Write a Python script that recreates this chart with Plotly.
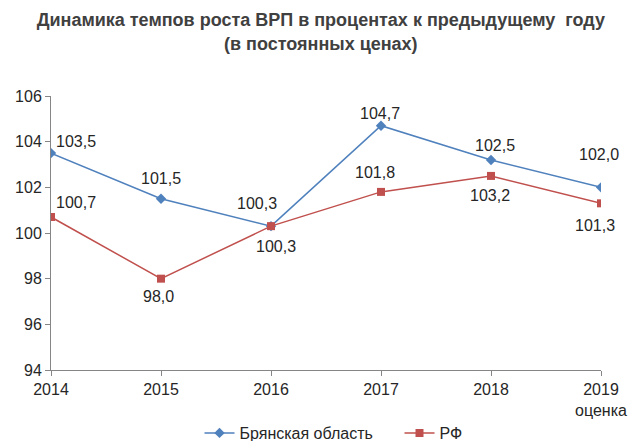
import plotly.graph_objects as go

years = ["2014", "2015", "2016", "2017", "2018", "2019<br>оценка"]
bryansk = [103.5, 101.5, 100.3, 104.7, 103.2, 102.0]
rf = [100.7, 98.0, 100.3, 101.8, 102.5, 101.3]
bryansk_labels = ["103,5", "101,5", "100,3", "104,7", "102,5", "102,0"]
rf_labels = ["100,7", "98,0", "100,3", "101,8", "103,2", "101,3"]
y_ticks = [94, 96, 98, 100, 102, 104, 106]

BLUE = "#4F81BD"
RED = "#C0504D"
TXT = "#262626"
FONT = "Liberation Sans, Arial, sans-serif"

x = list(range(len(years)))

fig = go.Figure()
fig.add_trace(go.Scatter(
    x=x, y=bryansk, name="Брянская область", mode="lines+markers",
    line=dict(color=BLUE, width=1.5),
    marker=dict(symbol="diamond", size=8, color=BLUE),
))
fig.add_trace(go.Scatter(
    x=x, y=rf, name="РФ", mode="lines+markers",
    line=dict(color=RED, width=1.5),
    marker=dict(symbol="square", size=8, color=RED),
))

# label offsets (pixels) relative to each point
b_off = [(25, 12), (0, 20), (-14, 23), (-1, 12), (4, 14), (-2, 33)]
r_off = [(25, 15), (-3, -18), (5, -20), (-6, 19), (-1, -20), (-6, -22)]
for i in x:
    fig.add_annotation(x=i, y=bryansk[i], text=bryansk_labels[i], showarrow=False,
                       xshift=b_off[i][0], yshift=b_off[i][1],
                       font=dict(size=16, color=TXT, family=FONT))
    fig.add_annotation(x=i, y=rf[i], text=rf_labels[i], showarrow=False,
                       xshift=r_off[i][0], yshift=r_off[i][1],
                       font=dict(size=16, color=TXT, family=FONT))

fig.update_layout(
    width=629, height=441,
    margin=dict(l=51, r=28, t=96, b=71, autoexpand=False),
    paper_bgcolor="white", plot_bgcolor="white",
    font=dict(family=FONT, size=16, color=TXT),
    title=dict(
        text="<b>Динамика темпов роста ВРП в процентах к предыдущему  году<br>(в постоянных ценах)</b>",
        x=0.51, xanchor="center", yref="container", y=0.94, yanchor="middle",
        font=dict(size=18, color="#404040", family=FONT),
    ),
    showlegend=True,
    legend=dict(orientation="h", x=0.27, xanchor="left", y=-0.23, yanchor="middle",
                entrywidth=155, entrywidthmode="pixels",
                font=dict(size=16, color=TXT), bgcolor="rgba(0,0,0,0)"),
    xaxis=dict(
        range=[0, 5], tickmode="array", tickvals=x, ticktext=years,
        showline=True, linecolor="#868686", linewidth=1,
        ticks="outside", ticklen=5, tickcolor="#868686",
        showgrid=False, zeroline=False, fixedrange=True, automargin=False,
    ),
    yaxis=dict(
        range=[94, 106], tickmode="array", tickvals=y_ticks,
        showline=True, linecolor="#868686", linewidth=1,
        ticks="outside", ticklen=5, tickcolor="#868686",
        showgrid=False, zeroline=False, fixedrange=True, automargin=False,
        tickfont=dict(size=16),
    ),
)

fig.write_html("out.html")
